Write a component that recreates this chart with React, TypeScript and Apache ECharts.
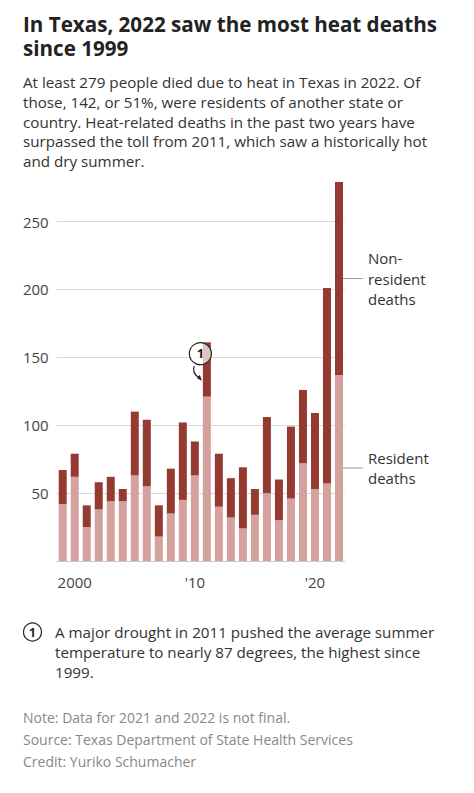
import React, { useEffect, useRef } from "react";
import * as echarts from "echarts";

const years = [
  "1999", "2000", "2001", "2002", "2003", "2004", "2005", "2006",
  "2007", "2008", "2009", "2010", "2011", "2012", "2013", "2014",
  "2015", "2016", "2017", "2018", "2019", "2020", "2021", "2022",
];
const residentDeaths = [
  42, 62, 25, 38, 44, 44, 63, 55, 18, 35, 45, 63,
  121, 40, 32, 24, 34, 50, 30, 46, 72, 53, 57, 137,
];
const nonResidentDeaths = [
  25, 17, 16, 20, 18, 9, 47, 49, 23, 33, 57, 25,
  40, 39, 29, 45, 19, 56, 30, 53, 54, 56, 144, 142,
];
const xTickLabels: Record<string, string> = { "2000": "2000", "2010": "'10", "2020": "'20" };

const titleLines = ["In Texas, 2022 saw the most heat deaths", "since 1999"];
const subtitleLines = [
  "At least 279 people died due to heat in Texas in 2022. Of",
  "those, 142, or 51%, were residents of another state or",
  "country. Heat-related deaths in the past two years have",
  "surpassed the toll from 2011, which saw a historically hot",
  "and dry summer.",
];
const footnoteLines = [
  "A major drought in 2011 pushed the average summer",
  "temperature to nearly 87 degrees, the highest since",
  "1999.",
];
const noteLines = [
  "Note: Data for 2021 and 2022 is not final.",
  "Source: Texas Department of State Health Services",
  "Credit: Yuriko Schumacher",
];
const nonResidentLabel = ["Non-", "resident", "deaths"];
const residentLabel = ["Resident", "deaths"];
const annotatedYear = "2011";

const FONT = '"Open Sans", "Noto Sans", sans-serif';
const DARK = "#953a31";
const LIGHT = "#d4a19e";

function textEl(text: string, x: number, y: number, size: number, color: string, weight = "normal", align = "left") {
  return {
    type: "text",
    x,
    y,
    silent: true,
    style: {
      text,
      fill: color,
      font: `${weight} ${size}px ${FONT}`,
      align,
      verticalAlign: "middle",
    },
  };
}

export default function App() {
  const ref = useRef<HTMLDivElement>(null);
  useEffect(() => {
    const chart = echarts.init(ref.current!, null, { renderer: "svg" });
    const staticGraphics: any[] = [];
    staticGraphics.push({
      type: "text",
      x: 23,
      y: 12,
      silent: true,
      style: {
        text: titleLines.join("\n"),
        fill: "#222",
        font: `bold 20.6px ${FONT}`,
        lineHeight: 24,
        align: "left",
        verticalAlign: "top",
      },
    });
    subtitleLines.forEach((t, i) => staticGraphics.push(textEl(t, 23, 82 + i * 19.8, 15.2, "#333")));
    footnoteLines.forEach((t, i) => staticGraphics.push(textEl(t, 55, 632 + i * 20, 15.2, "#333")));
    noteLines.forEach((t, i) => staticGraphics.push(textEl(t, 23, 717 + i * 22, 14, "#888")));
    staticGraphics.push({
      type: "circle",
      shape: { cx: 32.5, cy: 632, r: 9 },
      style: { fill: "#fff", stroke: "#222", lineWidth: 1.2 },
    });
    staticGraphics.push(textEl("1", 32.5, 632.5, 12, "#222", "bold", "center"));

    const option: any = {
      animation: false,
      grid: { left: 56.7, right: 129, top: 153.6, bottom: 793 - 561 },
      xAxis: {
        type: "category",
        data: years,
        axisLine: { lineStyle: { color: "#cccccc", width: 1 } },
        axisTick: {
          alignWithLabel: true,
          interval: (_i: number, v: string) => v in xTickLabels,
          length: 5,
          lineStyle: { color: "#cccccc" },
        },
        axisLabel: {
          interval: (_i: number, v: string) => v in xTickLabels,
          formatter: (v: string) => xTickLabels[v] || "",
          color: "#444",
          fontSize: 15,
          fontFamily: FONT,
          margin: 13,
        },
      },
      yAxis: {
        type: "value",
        min: 0,
        max: 300,
        interval: 50,
        axisLabel: { showMinLabel: false, showMaxLabel: false, color: "#444", fontSize: 15, fontFamily: FONT, margin: 8 },
        splitLine: { showMinLine: false, showMaxLine: false, lineStyle: { color: "#d9d9d9" } },
        axisLine: { show: false },
        axisTick: { show: false },
      },
      series: [
        { type: "bar", stack: "d", data: residentDeaths, barWidth: 8, itemStyle: { color: LIGHT } },
        { type: "bar", stack: "d", data: nonResidentDeaths, barWidth: 8, itemStyle: { color: DARK } },
      ],
      graphic: staticGraphics,
    };
    chart.setOption(option);

    // Annotation & direct labels positioned from the chart scales
    const ai = years.indexOf(annotatedYear);
    const aTotal = residentDeaths[ai] + nonResidentDeaths[ai];
    const [ax, ay] = chart.convertToPixel({ gridIndex: 0 }, [ai, aTotal]) as number[];
    const cx = ax - 6.5;
    const cy = ay + 10.5;
    const li = years.length - 1;
    const [lx, nrY] = chart.convertToPixel({ gridIndex: 0 }, [li, residentDeaths[li] + nonResidentDeaths[li] / 2]) as number[];
    const [, rY] = chart.convertToPixel({ gridIndex: 0 }, [li, residentDeaths[li] / 2]) as number[];
    const lineX1 = lx + 4;
    const lineX2 = lx + 24;
    const textX = lx + 29;

    const dyn: any[] = [
      {
        type: "circle",
        shape: { cx, cy, r: 11 },
        style: { fill: "rgba(255,255,255,0.7)", stroke: "#222", lineWidth: 1.2 },
        z: 100,
      },
      { ...textEl("1", cx, cy + 0.5, 13, "#222", "bold", "center"), z: 101 },
      {
        type: "bezierCurve",
        shape: { x1: cx - 6, y1: cy + 13, cpx1: cx - 9, cpy1: cy + 20, x2: cx - 1, y2: cy + 25 },
        style: { stroke: "#222", lineWidth: 1.2, fill: null },
        z: 100,
      },
      {
        type: "polygon",
        shape: { points: [[cx + 1.5, cy + 28], [cx - 3.5, cy + 25.5], [cx - 0.5, cy + 22]] },
        style: { fill: "#222" },
        z: 100,
      },
      { type: "line", shape: { x1: lineX1, y1: nrY, x2: lineX2, y2: nrY }, style: { stroke: "#999", lineWidth: 1 } },
      { type: "line", shape: { x1: lineX1, y1: rY, x2: lineX2, y2: rY }, style: { stroke: "#999", lineWidth: 1 } },
    ];
    nonResidentLabel.forEach((t, i) => dyn.push(textEl(t, textX, nrY + (i - 1) * 20.5, 15, "#333")));
    residentLabel.forEach((t, i) => dyn.push(textEl(t, textX, rY + (i - 0.5) * 20.5, 15, "#333")));

    chart.setOption({ graphic: [...staticGraphics, ...dyn] });

    return () => chart.dispose();
  }, []);
  return (
    <div
      ref={ref}
      style={{ position: "fixed", left: 0, top: 0, width: 474, height: 793, background: "#fff" }}
    />
  );
}
